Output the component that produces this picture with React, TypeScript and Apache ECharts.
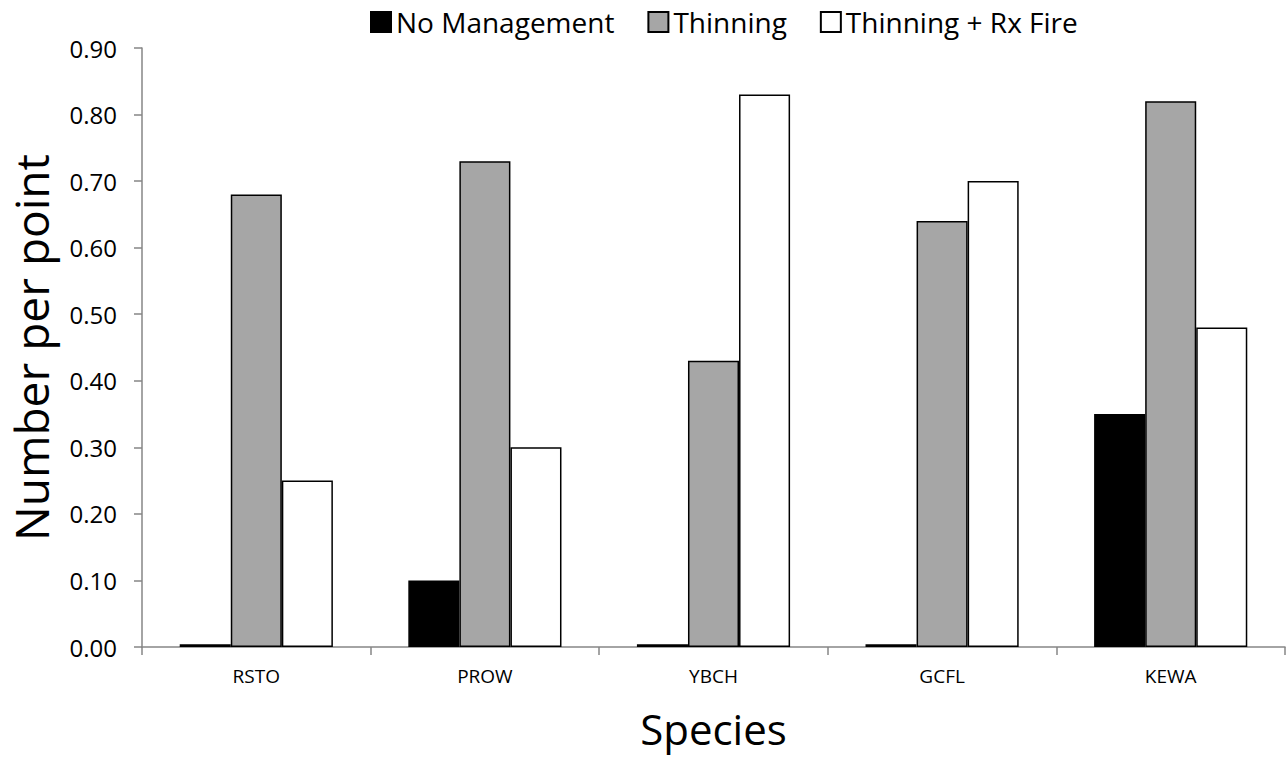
import React, { useEffect, useRef } from "react";
import * as echarts from "echarts";

const categories = ["RSTO", "PROW", "YBCH", "GCFL", "KEWA"];
const noManagement = [0.004, 0.1, 0.004, 0.004, 0.35];
const thinning = [0.68, 0.73, 0.43, 0.64, 0.82];
const thinningRxFire = [0.25, 0.3, 0.83, 0.7, 0.48];
const seriesNames = ["No Management", "Thinning", "Thinning + Rx Fire"];

const FONT = "Open Sans";

export default function App() {
  const ref = useRef<HTMLDivElement>(null);
  useEffect(() => {
    if (!ref.current) return;
    document.body.style.margin = "0";
    const chart = echarts.init(ref.current, null, { renderer: "svg" });
    const mk = (name: string, data: number[], color: string) => ({
      name,
      type: "bar",
      data,
      barGap: "0%",
      barCategoryGap: "33%",
      itemStyle: { color, borderColor: "#000", borderWidth: 1.5 },
    });
    chart.setOption({
      animation: false,
      backgroundColor: "#fff",
      textStyle: { fontFamily: FONT },
      legend: {
        top: 8,
        left: 370,
        padding: 0,
        icon: "rect",
        itemWidth: 20,
        itemHeight: 20,
        itemGap: 33,
        textStyle: { fontSize: 28, color: "#000", fontFamily: FONT },
        data: seriesNames,
      },
      grid: { left: 137, right: 3, top: 48, bottom: 112, containLabel: false },
      xAxis: {
        type: "category",
        data: categories,
        name: "Species",
        nameLocation: "middle",
        nameGap: 60,
        nameTextStyle: { fontSize: 42, color: "#000", fontFamily: FONT },
        axisLine: { lineStyle: { color: "#868686", width: 1.5 } },
        axisTick: { show: true, length: 8, lineStyle: { color: "#868686", width: 1.5 } },
        axisLabel: { fontSize: 19, color: "#000", margin: 19, fontFamily: FONT },
        splitLine: { show: false },
      },
      yAxis: {
        type: "value",
        min: 0,
        max: 0.9,
        interval: 0.1,
        name: "Number per point",
        nameLocation: "middle",
        nameGap: 88,
        nameTextStyle: { fontSize: 46, color: "#000", fontFamily: FONT },
        axisLine: { show: true, lineStyle: { color: "#868686", width: 1.5 } },
        axisTick: { show: true, length: 8, lineStyle: { color: "#868686", width: 1.5 } },
        axisLabel: {
          fontSize: 24,
          color: "#000",
          margin: 25,
          fontFamily: FONT,
          formatter: (v: number) => v.toFixed(2),
        },
        splitLine: { show: false },
      },
      series: [
        mk(seriesNames[0], noManagement, "#000000"),
        mk(seriesNames[1], thinning, "#a6a6a6"),
        mk(seriesNames[2], thinningRxFire, "#ffffff"),
      ],
    });
    return () => chart.dispose();
  }, []);
  return <div ref={ref} style={{ width: 1288, height: 759 }} />;
}
